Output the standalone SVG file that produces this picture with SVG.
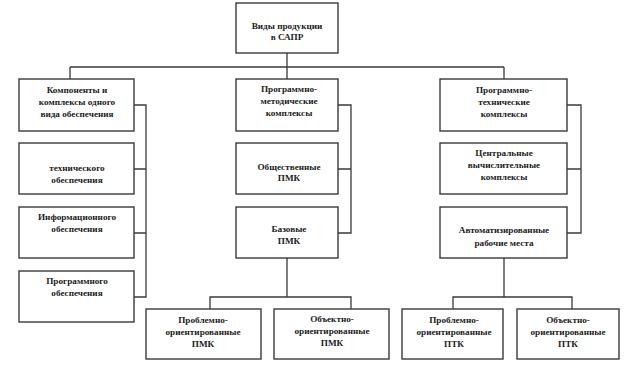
<svg xmlns="http://www.w3.org/2000/svg" width="624" height="366" viewBox="0 0 624 366">
<style>
.b{fill:#fff;stroke:#3a3a3a;stroke-width:1.4}
.c{fill:none;stroke:#3a3a3a;stroke-width:1.3}
text{font-family:'Liberation Serif','Times New Roman',serif;font-size:9.2px;font-weight:bold;fill:#222;text-anchor:middle}
</style>
<rect width="624" height="366" fill="#fff"/>
<g id="connectors">
<path class="c" d="M287,53V67M70,67H504M70,67V79M287,67V79M504,67V79"/>
<path class="c" d="M134,105H146V297H134M134,169H146M134,233H146"/>
<path class="c" d="M338,105H351V233H338M338,169H351"/>
<path class="c" d="M567,105H581V233H567M567,169H581"/>
<path class="c" d="M287,258V297M210,309V297H351V309"/>
<path class="c" d="M504,258V297M453,309V297H572V309"/>
</g>
<g id="top"><rect class="b" x="236" y="3" width="102" height="50"/><text x="287" y="29">Виды продукции</text><text x="287" y="40">в САПР</text></g>
<g id="l1"><rect class="b" x="19" y="79" width="115" height="52"/><text x="77" y="93">Компоненты и</text><text x="77" y="105">комплексы одного</text><text x="77" y="117">вида обеспечения</text></g>
<g id="l2"><rect class="b" x="19" y="143" width="115" height="51"/><text x="77" y="171">технического</text><text x="77" y="183">обеспечения</text></g>
<g id="l3"><rect class="b" x="19" y="207" width="115" height="51"/><text x="77" y="220">Информационного</text><text x="77" y="232">обеспечения</text></g>
<g id="l4"><rect class="b" x="19" y="271" width="115" height="51"/><text x="77" y="284">Программного</text><text x="77" y="296">обеспечения</text></g>
<g id="m1"><rect class="b" x="236" y="79" width="102" height="52"/><text x="289" y="92">Программно-</text><text x="289" y="104">методические</text><text x="289" y="116">комплексы</text></g>
<g id="m2"><rect class="b" x="236" y="143" width="102" height="51"/><text x="289" y="170">Общественные</text><text x="289" y="181">ПМК</text></g>
<g id="m3"><rect class="b" x="236" y="207" width="102" height="51"/><text x="289" y="232">Базовые</text><text x="289" y="244">ПМК</text></g>
<g id="r1"><rect class="b" x="440" y="79" width="127" height="52"/><text x="504" y="93">Программно-</text><text x="504" y="105">технические</text><text x="504" y="117">комплексы</text></g>
<g id="r2"><rect class="b" x="440" y="143" width="127" height="51"/><text x="504" y="156">Центральные</text><text x="504" y="168">вычислительные</text><text x="504" y="180">комплексы</text></g>
<g id="r3"><rect class="b" x="440" y="207" width="127" height="51"/><text x="504" y="233">Автоматизированные</text><text x="504" y="246">рабочие места</text></g>
<g id="pmk1"><rect class="b" x="146" y="309" width="115" height="50"/><text x="203" y="323">Проблемно-</text><text x="203" y="335">ориентированные</text><text x="203" y="347">ПМК</text></g>
<g id="pmk2"><rect class="b" x="274" y="309" width="115" height="50"/><text x="332" y="322">Объектно-</text><text x="332" y="334">ориентированные</text><text x="332" y="346">ПМК</text></g>
<g id="ptk1"><rect class="b" x="402" y="309" width="101" height="50"/><text x="454" y="323">Проблемно-</text><text x="454" y="335">ориентированные</text><text x="454" y="347">ПТК</text></g>
<g id="ptk2"><rect class="b" x="517" y="309" width="102" height="50"/><text x="568" y="323">Объектно-</text><text x="568" y="335">ориентированные</text><text x="568" y="347">ПТК</text></g>
</svg>
